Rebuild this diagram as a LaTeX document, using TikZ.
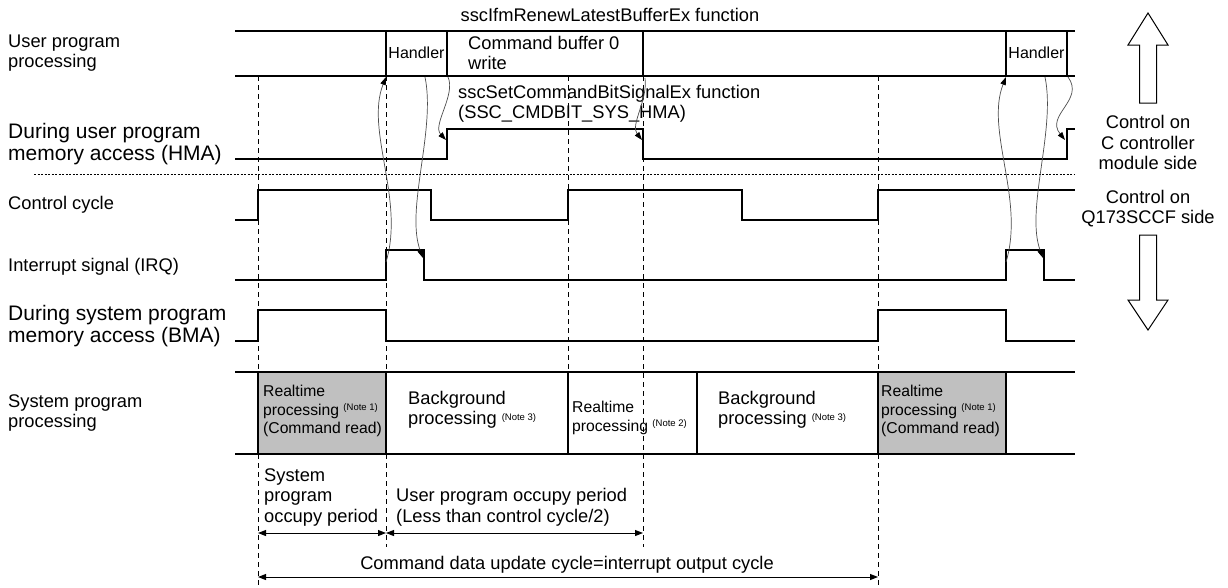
\documentclass[tikz,border=0pt]{standalone}
\usepackage{fontspec}
\setmainfont{Liberation Sans}
\usetikzlibrary{arrows.meta}
\definecolor{boxgray}{RGB}{192,192,192}
\newcommand\notemk[1]{\raisebox{4.5pt}{\fontsize{9.5}{10}\selectfont (Note #1)}}

\begin{document}
\begin{tikzpicture}[x=1pt, y=-1pt,
    sig/.style={line width=2pt},
    vdash/.style={line width=1pt, dash pattern=on 5pt off 4pt},
    sepline/.style={line width=.9pt, dash pattern=on 2pt off 1.5pt},
    curv/.style={line width=.7pt, draw=black!70, -{Triangle[length=8pt,width=5.5pt,color=black]}},
    dim/.style={line width=1pt, {Triangle[length=8pt,width=6pt]}-{Triangle[length=8pt,width=6pt]}},
    lbl/.style={font=\fontsize{18.3}{20.5}\selectfont, align=left, anchor=west, inner sep=0pt},
    biglbl/.style={lbl, font=\fontsize{21}{22.5}\selectfont},
    boxtxt/.style={lbl, font=\fontsize{15.7}{18.5}\selectfont},
    side/.style={font=\fontsize{18.3}{20.5}\selectfont, align=center, inner sep=0pt}]
    \useasboundingbox (0,0) rectangle (1228,587);

    % row labels
    \node[lbl] (upp) at (8,53) {User program\\processing};
    \node[biglbl] (hma) at (8,144) {During user program\\memory access (HMA)};
    \node[lbl] (cc) at (8,205) {Control cycle};
    \node[lbl] (irq) at (8,267) {Interrupt signal (IRQ)};
    \node[biglbl] (bma) at (8,326) {During system program\\memory access (BMA)};
    \node[lbl] (spp) at (8,413) {System program\\processing};

    % gray boxes and guide lines
    \fill[boxgray] (258,372) rectangle (386,454);
    \fill[boxgray] (878,372) rectangle (1006,454);
    \foreach \x/\e in {258/585, 386/547, 568/372, 643/547, 878/585}
        \draw[vdash] (\x,76) -- (\x,\e);
    \draw[sepline] (34,174) -- (1075,174);

    % user program processing band
    \draw[sig] (235,31) -- (1075,31) (235,76) -- (1075,76);
    \foreach \x in {386,447,643,1006,1067}
        \draw[sig] (\x,31) -- (\x,76);
    \node[lbl, anchor=center] (renew) at (610,15) {sscIfmRenewLatestBufferEx function};
    \node[font=\fontsize{16}{18}\selectfont, inner sep=0pt] (hdlA) at (416.5,53) {Handler};
    \node[font=\fontsize{16}{18}\selectfont, inner sep=0pt] (hdlB) at (1036.5,53) {Handler};
    \node[lbl] (cmdbuf) at (468,53) {Command buffer 0\\write};
    \node[lbl] (setbit) at (458,104) {sscSetCommandBitSignalEx function\\(SSC\_CMDBIT\_SYS\_HMA)};

    % signals
    \draw[sig] (235,159) -| (447,129) -| (643,159) -| (1067,129) -- (1075,129);
    \draw[sig] (235,220) -| (258,190) -| (431,220) -| (568,190) -| (742,220) -| (878,190) -- (1075,190);
    \draw[sig] (235,280) -| (386,250) -| (424,280) -| (1006,250) -| (1044,280) -- (1075,280);
    \draw[sig] (235,341) -| (258,310) -| (386,341) -| (878,310) -| (1006,341) -- (1075,341);

    % system program processing band
    \draw[sig] (235,372) -- (1075,372) (235,454) -- (1075,454);
    \foreach \x in {258,386,568,697,878,1006}
        \draw[sig] (\x,372) -- (\x,454);
    \node[boxtxt] (rtA) at (263,411) {Realtime\\processing \notemk1\\(Command read)};
    \node[lbl] (bgA) at (408,410) {Background\\processing \notemk3};
    \node[boxtxt] (rtB) at (572,418) {Realtime\\processing \notemk2};
    \node[lbl] (bgB) at (718,410) {Background\\processing \notemk3};
    \node[boxtxt] (rtC) at (881,411) {Realtime\\processing \notemk1\\(Command read)};

    % edge points for the thin arrows
    \coordinate (irqupA) at (386,262);   \coordinate (uppA) at (386,77);
    \coordinate (hdlbotA) at (425,77);   \coordinate (irqdnA) at (423,258);
    \coordinate (cmdbotA) at (448,77);   \coordinate (hmaup) at (446,140);
    \coordinate (cmdbotB) at (645,78);   \coordinate (hmadn) at (642,140);
    \coordinate (irqupB) at (1006,262);  \coordinate (uppB) at (1006,77);
    \coordinate (hdlbotB) at (1045,77);  \coordinate (irqdnB) at (1043,258);
    \coordinate (hdlendB) at (1068,77);  \coordinate (hmaupB) at (1065,140);

    \draw[curv] (irqupA) .. controls +(19,-62) and +(-21,53) .. (uppA);
    \draw[curv] (hdlbotA) .. controls +(11,53) and +(-18,-48) .. (irqdnA);
    \draw[curv] (cmdbotA) .. controls +(8,18) and +(-14,-15) .. (hmaup);
    \draw[curv] (cmdbotB) .. controls +(3,22) and +(-12,-15) .. (hmadn);
    \draw[curv] (irqupB) .. controls +(19,-62) and +(-21,53) .. (uppB);
    \draw[curv] (hdlbotB) .. controls +(11,53) and +(-18,-48) .. (irqdnB);
    \draw[curv] (hdlendB) .. controls +(17,23) and +(-20,-25) .. (hmaupB);

    % periods
    \node[lbl] (sysocc) at (264,497) {System\\program\\occupy period};
    \node[lbl] (usrocc) at (396,507.5) {User program occupy period\\(Less than control cycle/2)};
    \node[lbl, anchor=center] (updcyc) at (567,565) {Command data update cycle=interrupt output cycle};
    \coordinate (sysL) at (258,533);  \coordinate (sysR) at (386,533);
    \coordinate (usrR) at (643,533);
    \coordinate (updL) at (258,577);  \coordinate (updR) at (878,577);
    \draw[dim] (sysL) -- (sysR);
    \draw[dim] (sysR) -- (usrR);
    \draw[dim] (updL) -- (updR);

    % control side arrows
    \draw[line width=1pt] (1148,13) -- (1168,45) -- (1156.5,45) -- (1156.5,103)
        -- (1139.5,103) -- (1139.5,45) -- (1128,45) -- cycle;
    \draw[line width=1pt] (1148,330) -- (1168,300) -- (1156.5,300) -- (1156.5,235)
        -- (1139.5,235) -- (1139.5,300) -- (1128,300) -- cycle;
    \node[side] (ctlC) at (1148,142.5) {Control on\\C controller\\module side};
    \node[side] (ctlQ) at (1148,208.5) {Control on\\Q173SCCF side};
\end{tikzpicture}
\end{document}
